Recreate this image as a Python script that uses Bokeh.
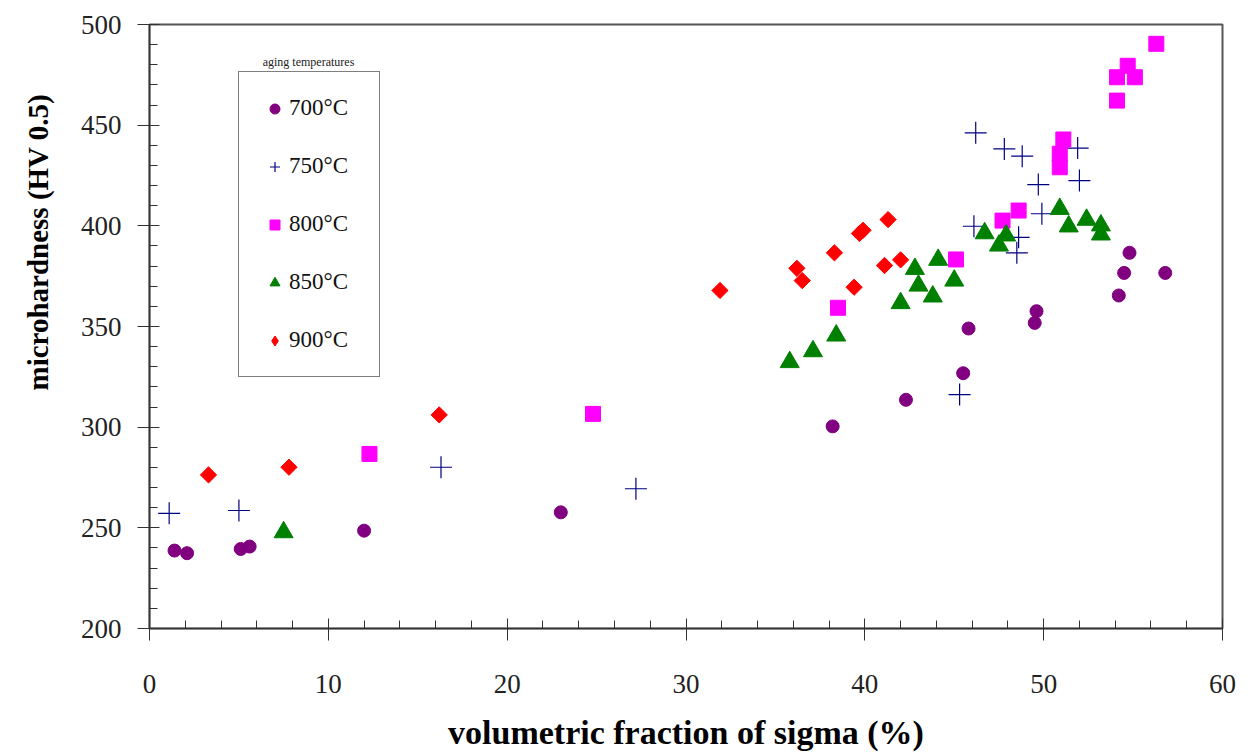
import numpy as np
from bokeh.plotting import figure
from bokeh.models import Range1d, Legend, LegendItem, Label, FixedTicker, Title
from bokeh.embed import file_html
from bokeh.resources import INLINE

# ---- data ----
t700_x = [1.4, 2.1, 5.1, 5.6, 12.0, 23.0, 38.2, 42.3, 45.5, 45.8, 49.5, 49.6, 54.2, 54.5, 54.8, 56.8]
t700_y = [238.7, 237.4, 239.5, 240.7, 248.6, 257.7, 300.4, 313.6, 326.8, 349.0, 351.8, 357.6, 365.4, 376.6, 386.6, 376.6]

t750_x = [1.1, 5.0, 16.3, 27.2, 45.3, 46.2, 47.8, 48.8, 51.9, 49.7, 52.0, 49.9, 46.1, 48.6, 48.5]
t750_y = [257.2, 258.6, 280.1, 269.4, 316.2, 446.2, 438.2, 434.6, 438.6, 420.5, 422.5, 406.0, 399.8, 394.3, 386.6]

t800_x = [12.3, 24.8, 38.5, 45.1, 47.7, 48.6, 50.9, 50.9, 51.1, 54.1, 54.1, 54.7, 55.1, 56.3]
t800_y = [286.7, 306.6, 359.3, 383.3, 402.6, 407.6, 429.1, 435.8, 442.9, 462.2, 473.8, 479.5, 473.8, 490.4]

t850_x = [7.5, 35.8, 37.1, 38.4, 42.0, 43.8, 43.0, 42.8, 44.1, 45.0, 46.7, 47.9, 47.5, 50.9, 51.4, 52.4, 53.2, 53.2]
t850_y = [247.8, 332.3, 337.7, 345.5, 361.6, 364.9, 370.3, 378.6, 383.1, 372.8, 396.3, 395.2, 390.2, 408.4, 399.7, 403.0, 400.2, 395.7]

t900_x = [3.3, 7.8, 16.2, 31.9, 36.2, 36.5, 38.3, 39.4, 39.7, 39.9, 41.1, 42.0, 41.3]
t900_y = [276.3, 280.1, 306.1, 367.9, 378.9, 372.8, 386.6, 369.5, 396.2, 397.8, 380.3, 383.1, 403.1]

series_labels = ["700°C", "750°C", "800°C", "850°C", "900°C"]
x_ticks = [0, 10, 20, 30, 40, 50, 60]
y_ticks = [200, 250, 300, 350, 400, 450, 500]
x_title = "volumetric fraction of sigma (%)"
y_title = "microhardness (HV 0.5)"
legend_title = "aging temperatures"

SERIF = "Liberation Serif"

p = figure(width=1253, height=753, output_backend="svg", toolbar_location=None,
           x_range=Range1d(0, 60), y_range=Range1d(200, 500),
           min_border_left=148, min_border_right=31, min_border_top=24, min_border_bottom=125)
p.grid.visible = False
p.outline_line_color = "#555555"
p.outline_line_width = 2
p.background_fill_color = "white"
p.border_fill_color = "white"

r700 = p.scatter(t700_x, t700_y, marker="circle", size=13, fill_color="#800080", line_color="#800080")
r750 = p.scatter(t750_x, t750_y, marker="cross", size=22, line_color="#000080", line_width=1.2)
r800 = p.scatter(t800_x, t800_y, marker="square", size=15, fill_color="#FF00FF", line_color="#FF00FF")
r850 = p.scatter(t850_x, t850_y, marker="triangle", size=19, fill_color="#008000", line_color="#008000")
# diamond-shaped legend key for 900 °C (drawn beneath the rotated squares, fully covered by them)
r900_key = p.scatter(t900_x, t900_y, marker="diamond", size=13, fill_color="#FF0000", line_color="#FF0000")
r900 = p.scatter(t900_x, t900_y, marker="square", angle=np.pi / 4, size=11.5,
                 fill_color="#FF0000", line_color="#FF0000")

# axes
p.xaxis.ticker = FixedTicker(ticks=x_ticks, minor_ticks=list(np.arange(0, 61, 2)))
p.yaxis.ticker = FixedTicker(ticks=y_ticks, minor_ticks=list(np.arange(200, 501, 10)))
for ax in (p.xaxis[0], p.yaxis[0]):
    ax.axis_line_color = "#333333"
    ax.axis_line_width = 1.5
    ax.major_tick_line_color = "#333333"
    ax.minor_tick_line_color = "#333333"
    ax.major_tick_in = 10
    ax.major_tick_out = 12
    ax.minor_tick_in = 8
    ax.minor_tick_out = 0
    ax.major_label_text_font = SERIF
    ax.major_label_text_font_size = "27px"
    ax.major_label_text_color = "#222222"
    ax.axis_label_text_font = SERIF
    ax.axis_label_text_font_style = "bold"
    ax.axis_label_text_color = "black"

p.xaxis.axis_label = x_title
p.xaxis.axis_label_text_font_size = "34px"
p.xaxis.major_label_standoff = 34
p.xaxis.axis_label_standoff = 18
p.yaxis.major_label_standoff = 16

# y-axis title placed (rotated) like the reference, higher than the frame centre
ytitle = Title(text=y_title, align="left", offset=238, vertical_align="top",
               text_font=SERIF, text_font_style="bold", text_font_size="29px",
               text_color="black", standoff=43)
p.add_layout(ytitle, "left")

legend = Legend(items=[LegendItem(label=series_labels[i], renderers=[r])
                       for i, r in enumerate([r700, r750, r800, r850, r900_key])],
                location=(89, 251), orientation="vertical")
legend.glyph_width = 25
legend.glyph_height = 25
legend.label_height = 25
legend.label_width = 67
legend.label_standoff = 2
legend.spacing = 32
legend.padding = 23
legend.margin = 0
legend.border_line_color = "black"
legend.border_line_width = 1.5
legend.background_fill_color = "white"
legend.background_fill_alpha = 1
legend.label_text_font = SERIF
legend.label_text_font_size = "23px"
legend.label_text_color = "#111111"
p.add_layout(legend, "center")

title_lbl = Label(x=159, y=567, x_units="screen", y_units="screen", text=legend_title,
                  text_align="center", text_baseline="middle", text_font=SERIF,
                  text_font_size="12px", text_color="#222222")
p.add_layout(title_lbl)

open("out.html", "w").write(file_html(p, INLINE))
